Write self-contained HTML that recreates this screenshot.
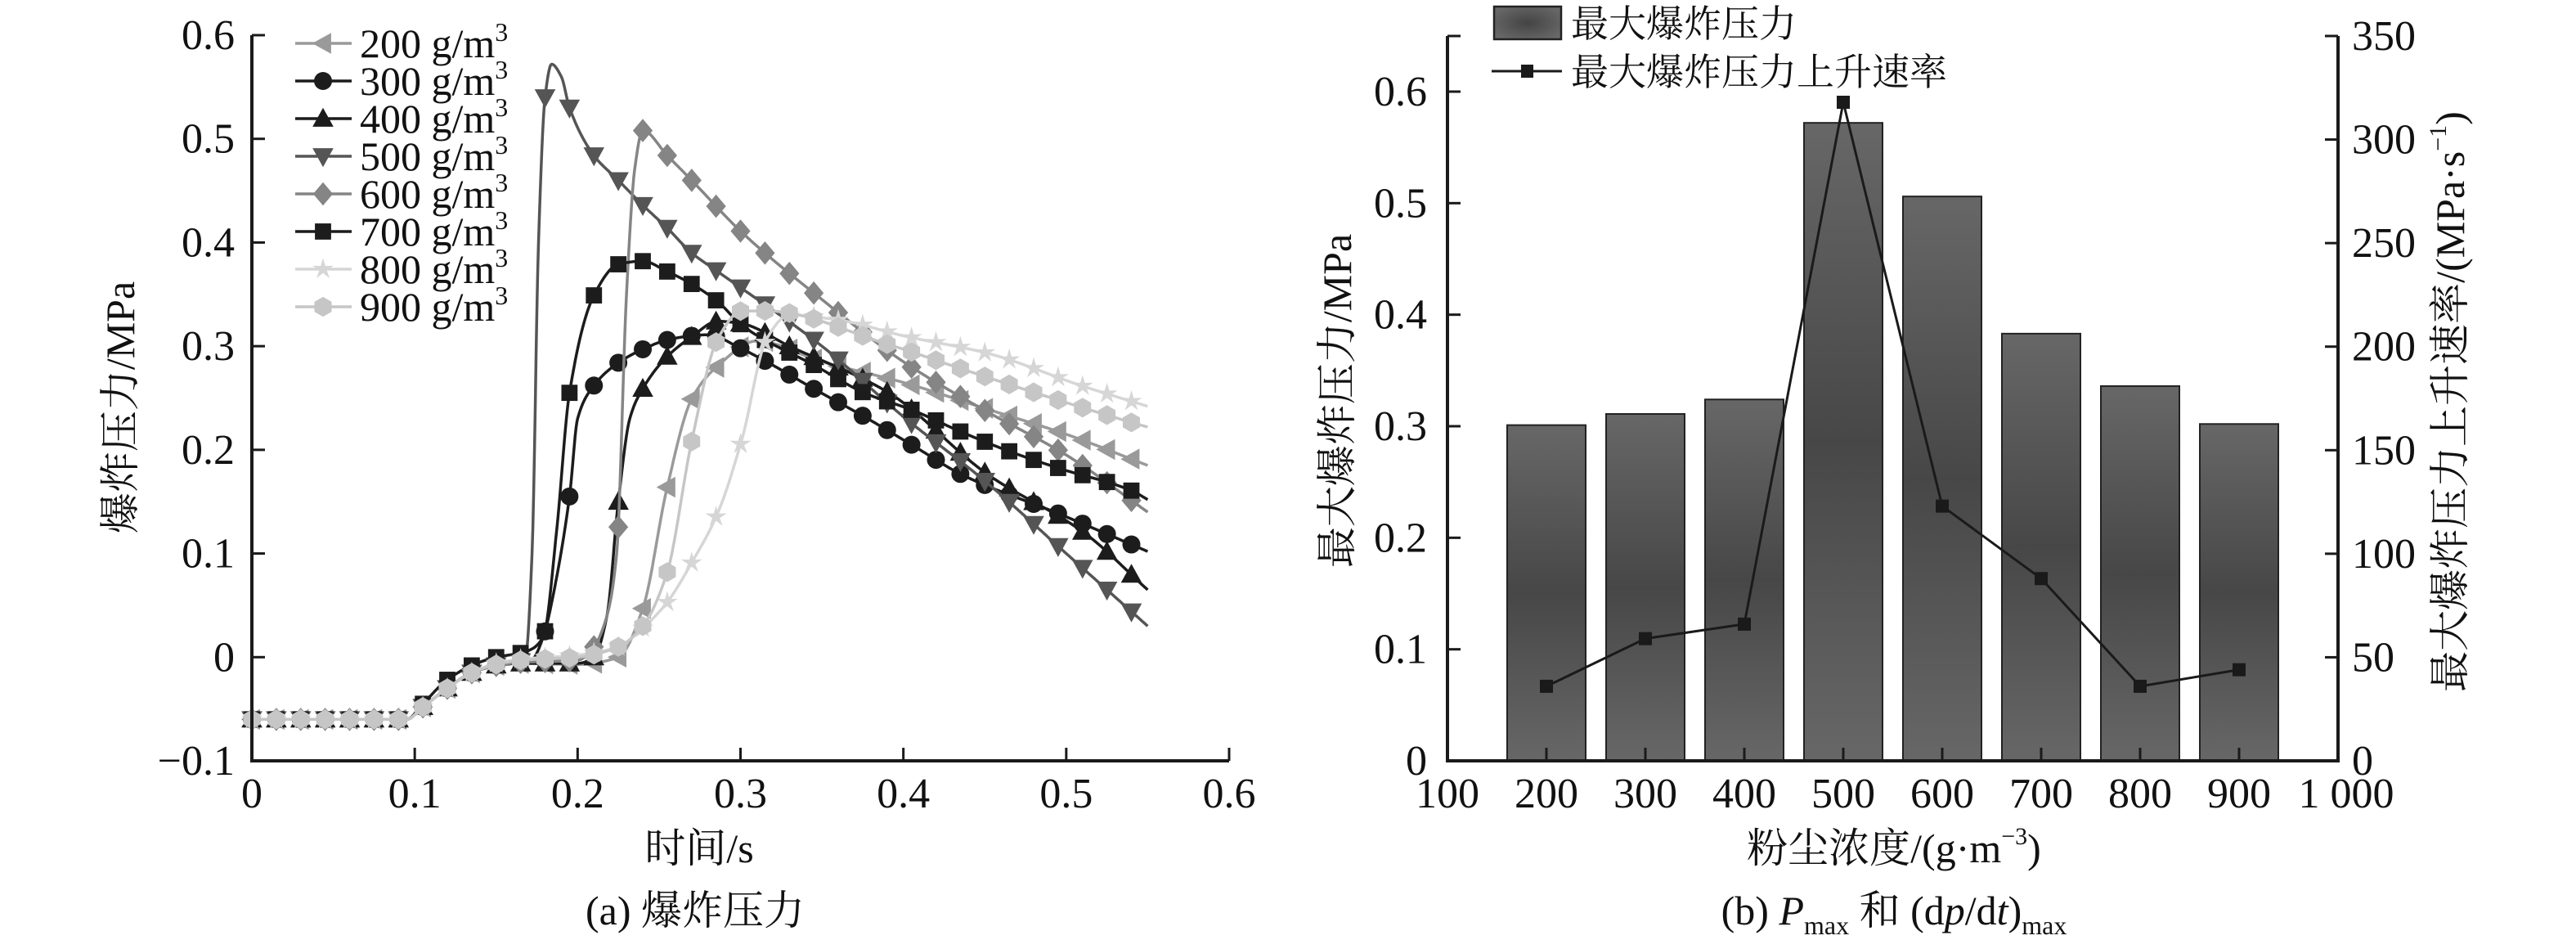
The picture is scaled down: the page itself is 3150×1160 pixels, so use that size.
<!DOCTYPE html>
<html><head><meta charset="utf-8">
<style>
html,body{margin:0;padding:0;background:#fff;}
svg{display:block;}
text{font-family:"Liberation Serif","Noto Serif CJK SC",serif;fill:#111;}
</style></head>
<body>
<svg id="fig" width="3150" height="1160" viewBox="0 0 3150 1160" xmlns="http://www.w3.org/2000/svg">
<defs>
<linearGradient id="barGrad" x1="0" y1="0" x2="0" y2="1">
<stop offset="0" stop-color="#676767"/><stop offset="0.5" stop-color="#474747"/><stop offset="1" stop-color="#676767"/>
</linearGradient>
<radialGradient id="legGrad" cx="0.5" cy="0.5" r="0.6">
<stop offset="0" stop-color="#444"/><stop offset="1" stop-color="#686868"/>
</radialGradient>
</defs>
<g id="chartA"></g>
<g id="chartB"></g>
</svg>
<script>
// ---------- Chart (a) data ----------
const xTicksA = [0, 0.1, 0.2, 0.3, 0.4, 0.5, 0.6];
const yTicksA = [-0.1, 0, 0.1, 0.2, 0.3, 0.4, 0.5, 0.6];
const seriesNames = ["200", "300", "400", "500", "600", "700", "800", "900"];
const p200 = [[0,-0.06],[0.095,-0.06],[0.105,-0.048],[0.12,-0.03],[0.135,-0.015],[0.15,-0.008],[0.165,-0.006],[0.2,-0.007],[0.225,0.0],[0.24,0.047],[0.255,0.164],[0.27,0.249],[0.286,0.281],[0.31,0.305],[0.35,0.285],[0.4,0.265],[0.45,0.24],[0.5,0.215],[0.55,0.185]];
const p300 = [[0,-0.06],[0.095,-0.06],[0.105,-0.048],[0.12,-0.03],[0.135,-0.015],[0.15,-0.008],[0.165,-0.004],[0.172,-0.002],[0.179,0.02],[0.185,0.06],[0.195,0.155],[0.2,0.23],[0.21,0.262],[0.225,0.284],[0.24,0.297],[0.255,0.306],[0.27,0.31],[0.28,0.311],[0.3,0.298],[0.316,0.285],[0.346,0.258],[0.376,0.232],[0.406,0.204],[0.436,0.176],[0.496,0.138],[0.55,0.102]];
const p400 = [[0,-0.06],[0.095,-0.06],[0.105,-0.048],[0.12,-0.03],[0.135,-0.015],[0.15,-0.008],[0.165,-0.006],[0.2,-0.006],[0.21,0.0],[0.218,0.04],[0.225,0.15],[0.232,0.23],[0.24,0.259],[0.255,0.29],[0.27,0.309],[0.286,0.324],[0.3,0.322],[0.33,0.3],[0.39,0.256],[0.452,0.176],[0.511,0.12],[0.55,0.065]];
const p500 = [[0,-0.06],[0.095,-0.06],[0.105,-0.048],[0.12,-0.03],[0.135,-0.015],[0.15,-0.008],[0.165,-0.004],[0.168,0.0],[0.172,0.1],[0.176,0.4],[0.18,0.54],[0.184,0.572],[0.19,0.56],[0.195,0.53],[0.21,0.484],[0.225,0.46],[0.24,0.436],[0.255,0.414],[0.27,0.39],[0.286,0.372],[0.35,0.3],[0.4,0.232],[0.45,0.17],[0.5,0.1],[0.55,0.03]];
const p600 = [[0,-0.06],[0.095,-0.06],[0.105,-0.048],[0.12,-0.03],[0.135,-0.015],[0.15,-0.008],[0.165,-0.005],[0.2,-0.003],[0.21,0.01],[0.218,0.04],[0.224,0.1],[0.23,0.35],[0.235,0.47],[0.24,0.508],[0.255,0.484],[0.27,0.46],[0.3,0.411],[0.35,0.345],[0.4,0.285],[0.45,0.238],[0.5,0.195],[0.55,0.14]];
const p700 = [[0,-0.06],[0.095,-0.06],[0.105,-0.045],[0.119,-0.023],[0.135,-0.008],[0.15,0.0],[0.165,0.004],[0.172,0.008],[0.179,0.02],[0.187,0.12],[0.195,0.255],[0.21,0.349],[0.225,0.379],[0.24,0.382],[0.255,0.372],[0.27,0.36],[0.286,0.343],[0.301,0.32],[0.346,0.281],[0.376,0.255],[0.406,0.238],[0.436,0.217],[0.466,0.198],[0.496,0.182],[0.541,0.16],[0.55,0.152]];
const p800 = [[0,-0.06],[0.095,-0.06],[0.105,-0.048],[0.12,-0.03],[0.135,-0.015],[0.15,-0.006],[0.165,-0.002],[0.2,0.002],[0.225,0.01],[0.24,0.028],[0.255,0.053],[0.27,0.091],[0.286,0.139],[0.301,0.211],[0.316,0.307],[0.33,0.33],[0.361,0.325],[0.4,0.31],[0.452,0.293],[0.511,0.261],[0.55,0.242]];
const p900 = [[0,-0.06],[0.095,-0.06],[0.105,-0.048],[0.12,-0.03],[0.135,-0.015],[0.15,-0.007],[0.165,-0.003],[0.2,0.0],[0.225,0.01],[0.24,0.03],[0.255,0.082],[0.27,0.208],[0.286,0.307],[0.301,0.334],[0.316,0.334],[0.39,0.302],[0.436,0.278],[0.481,0.255],[0.541,0.226],[0.55,0.222]];

// ---------- Chart (b) data ----------
const concentrations = [200, 300, 400, 500, 600, 700, 800, 900];
const maxPressure = [0.301, 0.311, 0.324, 0.572, 0.506, 0.383, 0.336, 0.302];
const maxRate = [36, 59, 66, 318, 123, 88, 36, 44];
const xTicksB = [100, 200, 300, 400, 500, 600, 700, 800, 900, 1000];
const xTickLabelsB = ["100","200","300","400","500","600","700","800","900","1 000"];
const yTicksBL = [0, 0.1, 0.2, 0.3, 0.4, 0.5, 0.6];
const yTicksBR = [0, 50, 100, 150, 200, 250, 300, 350];

const NS = "http://www.w3.org/2000/svg";
function mk(tag, attrs, parent, txt){
  const e = document.createElementNS(NS, tag);
  for (const k in attrs) e.setAttribute(k, attrs[k]);
  if (txt !== undefined) e.textContent = txt;
  parent.appendChild(e);
  return e;
}

// monotone cubic interpolation (Fritsch-Carlson)
function monotone(pts){
  const n = pts.length, xs = pts.map(p=>p[0]), ys = pts.map(p=>p[1]);
  const d = [], m = new Array(n);
  for (let i=0;i<n-1;i++) d.push((ys[i+1]-ys[i])/(xs[i+1]-xs[i]));
  m[0]=d[0]; m[n-1]=d[n-2];
  for (let i=1;i<n-1;i++){
    if (d[i-1]*d[i] <= 0) m[i]=0;
    else { const w1=2*(xs[i+1]-xs[i])+(xs[i]-xs[i-1]), w2=(xs[i+1]-xs[i])+2*(xs[i]-xs[i-1]);
      m[i]=(w1+w2)/(w1/d[i-1]+w2/d[i]); }
  }
  return function(x){
    let i=0; while (i<n-2 && x>xs[i+1]) i++;
    const h=xs[i+1]-xs[i], t=(x-xs[i])/h;
    const h00=2*t*t*t-3*t*t+1, h10=t*t*t-2*t*t+t, h01=-2*t*t*t+3*t*t, h11=t*t*t-t*t;
    return h00*ys[i]+h10*h*m[i]+h01*ys[i+1]+h11*h*m[i+1];
  };
}

function marker(g, shape, cx, cy, s, fill){
  let e;
  if (shape==="circle") e = mk("circle",{cx:cx,cy:cy,r:s*0.5,fill:fill},g);
  else if (shape==="square") e = mk("rect",{x:cx-s*0.45,y:cy-s*0.45,width:s*0.9,height:s*0.9,fill:fill},g);
  else {
    let p;
    if (shape==="tri-up") p=[[0,-0.6],[0.58,0.45],[-0.58,0.45]];
    else if (shape==="tri-down") p=[[0,0.6],[0.58,-0.45],[-0.58,-0.45]];
    else if (shape==="tri-left") p=[[-0.6,0],[0.45,-0.58],[0.45,0.58]];
    else if (shape==="diamond") p=[[0,-0.65],[0.55,0],[0,0.65],[-0.55,0]];
    else if (shape==="star") { p=[]; for(let k=0;k<10;k++){const a=-Math.PI/2+k*Math.PI/5, r=k%2?0.22:0.62; p.push([r*Math.cos(a),r*Math.sin(a)]);} }
    else if (shape==="hex") { p=[]; for(let k=0;k<6;k++){const a=Math.PI/6+k*Math.PI/3; p.push([0.55*Math.cos(a),0.55*Math.sin(a)]);} }
    e = mk("polygon",{points:p.map(q=>(cx+q[0]*s).toFixed(1)+","+(cy+q[1]*s).toFixed(1)).join(" "),fill:fill},g);
  }
  return e;
}

// ================= Chart A =================
(function(){
  const g = document.getElementById("chartA");
  const X0=308, X1=1503, Y0=930, Y1=43;
  const sx = v => X0 + (v-0)/(0.6-0)*(X1-X0);
  const sy = v => Y0 - (v-(-0.1))/(0.6-(-0.1))*(Y0-Y1);
  const series = [p200,p300,p400,p500,p600,p700,p800,p900];
  const colors = ["#9a9a9a","#1c1c1c","#1c1c1c","#555555","#858585","#1c1c1c","#d6d6d6","#c6c6c6"];
  const shapes = ["tri-left","circle","tri-up","tri-down","diamond","square","star","hex"];
  const offs = [0.0,0.0,0.0,0.0,0.0,0.0,0.0,0.0];

  series.forEach((pts,si)=>{
    const sg = mk("g",{},g);
    
    
    const f = monotone(pts);
    const t0 = pts[0][0], t1 = pts[pts.length-1][0];
    let d="";
    for (let t=t0;t<=t1+1e-9;t+=0.0005){ d += (d?"L":"M")+sx(t).toFixed(1)+","+sy(f(t)).toFixed(1); }
    const ln = mk("path",{d:d,fill:"none",stroke:colors[si],"stroke-width":3.5},sg);
    
    
    for (let t=offs[si]; t<=0.545; t+=0.015){
      const mm = marker(sg, shapes[si], sx(t), sy(f(t)), 22, colors[si]);
      
      
    }
  });

  // axes
  const ax = mk("path",{d:`M${X0},${Y1}V${Y0}H${X1}`,fill:"none",stroke:"#1a1a1a","stroke-width":4},g);
   
  yTicksA.forEach(v=>{
    mk("line",{x1:X0,x2:X0+16,y1:sy(v),y2:sy(v),stroke:"#1a1a1a","stroke-width":3},g);
    const t = mk("text",{x:287,y:sy(v)+17,"font-size":52,"text-anchor":"end"},g,(v<0?"\u22120.1":String(v)));
     
  });
  xTicksA.forEach(v=>{
    mk("line",{x1:sx(v),x2:sx(v),y1:Y0,y2:Y0-16,stroke:"#1a1a1a","stroke-width":3},g);
    const t = mk("text",{x:sx(v),y:987,"font-size":52,"text-anchor":"middle"},g,String(v));
     
  });
  const xt = mk("text",{x:855,y:1054,"font-size":50,"text-anchor":"middle"},g,"时间/s");
   
  const yt = mk("text",{x:0,y:0,"font-size":50,"text-anchor":"middle",transform:"translate(164,498) rotate(-90)"},g,"爆炸压力/MPa");
   
  const cap = mk("text",{x:850,y:1130,"font-size":50,"text-anchor":"middle"},g,"(a) 爆炸压力");
   

  // legend
  const lg = mk("g",{},g);
   
  seriesNames.forEach((nm,i)=>{
    const y = 53 + i*46;
    const eg = mk("g",{},lg);
     
    mk("line",{x1:361,x2:430,y1:y,y2:y,stroke:colors[i],"stroke-width":3.5},eg);
    marker(eg, shapes[i], 395, y, 22, colors[i]);
    const t = mk("text",{x:440,y:y+17,"font-size":50},eg,nm+" g/m");
    mk("tspan",{"font-size":32,dy:-20},t,"3");
  });
})();

// ================= Chart B =================
(function(){
  const g = document.getElementById("chartB");
  const X0=1770, X1=2859, Y0=930, YT=44;
  const sx = v => X0 + (v-100)/(1000-100)*(X1-X0);
  const yTop06 = 112;
  const syL = v => Y0 - v/0.6*(Y0-yTop06);
  const syR = v => Y0 - v/350*(Y0-YT);
  const bw = 96;

  concentrations.forEach((c,i)=>{
    const r = mk("rect",{x:sx(c)-bw/2,y:syL(maxPressure[i]),width:bw,height:Y0-syL(maxPressure[i]),fill:"url(#barGrad)",stroke:"#222","stroke-width":2},g);
     
  });
  let d="";
  concentrations.forEach((c,i)=>{ d += (i?"L":"M")+sx(c).toFixed(1)+","+syR(maxRate[i]).toFixed(1); });
  const ln = mk("path",{d:d,fill:"none",stroke:"#1a1a1a","stroke-width":3},g);
   
  concentrations.forEach((c,i)=>{
    const m = mk("rect",{x:sx(c)-8,y:syR(maxRate[i])-8,width:16,height:16,fill:"#1a1a1a"},g);
     
  });

  const ax = mk("path",{d:`M${X0},${YT}V${Y0}H${X1}V${YT}`,fill:"none",stroke:"#1a1a1a","stroke-width":4},g);
   
  mk("line",{x1:X0,x2:X0+16,y1:YT,y2:YT,stroke:"#1a1a1a","stroke-width":3},g);
  yTicksBL.forEach(v=>{
    mk("line",{x1:X0,x2:X0+16,y1:syL(v),y2:syL(v),stroke:"#1a1a1a","stroke-width":3},g);
    const t = mk("text",{x:1745,y:syL(v)+17,"font-size":52,"text-anchor":"end"},g,String(v));
     
  });
  yTicksBR.forEach(v=>{
    mk("line",{x1:X1,x2:X1-16,y1:syR(v),y2:syR(v),stroke:"#1a1a1a","stroke-width":3},g);
    const t = mk("text",{x:2876,y:syR(v)+17,"font-size":52,"text-anchor":"start"},g,String(v));
     
  });
  xTicksB.forEach((v,i)=>{
    mk("line",{x1:sx(v),x2:sx(v),y1:Y0,y2:Y0-16,stroke:"#1a1a1a","stroke-width":3},g);
    const t = mk("text",{x:sx(v)+(i===xTicksB.length-1?10:0),y:987,"font-size":52,"text-anchor":"middle"},g,xTickLabelsB[i]);
     
  });
  const xt = mk("text",{x:2316,y:1054,"font-size":50,"text-anchor":"middle"},g,"粉尘浓度/(g·m");
  mk("tspan",{"font-size":30,dy:-22},xt,"\u22123");
  mk("tspan",{dy:22},xt,")");
   
  const yl = mk("text",{x:0,y:0,"font-size":50,"text-anchor":"middle",transform:"translate(1652,490) rotate(-90)"},g,"最大爆炸压力/MPa");
   
  const yr = mk("text",{x:0,y:0,"font-size":50,"text-anchor":"middle",transform:"translate(3013,491) rotate(-90)"},g,"最大爆炸压力上升速率/(MPa·s");
  mk("tspan",{"font-size":30,dy:-22},yr,"\u22121");
  mk("tspan",{dy:22},yr,")");
   
  const cap = mk("text",{x:2316,y:1130,"font-size":50,"text-anchor":"middle"},g,"(b) ");
  mk("tspan",{"font-style":"italic"},cap,"P");
  mk("tspan",{"font-size":32,dy:12},cap,"max");
  mk("tspan",{dy:-12},cap," 和 (d");
  mk("tspan",{"font-style":"italic"},cap,"p");
  mk("tspan",{},cap,"/d");
  mk("tspan",{"font-style":"italic"},cap,"t");
  mk("tspan",{},cap,")");
  mk("tspan",{"font-size":32,dy:12},cap,"max");
   

  const lg = mk("g",{},g);
   
  const e1 = mk("g",{},lg);
   
  mk("rect",{x:1827,y:8,width:82,height:40,fill:"url(#legGrad)",stroke:"#222","stroke-width":2.5},e1);
  mk("text",{x:1921,y:45,"font-size":46},e1,"最大爆炸压力");
  const e2 = mk("g",{},lg);
   
  mk("line",{x1:1824,x2:1910,y1:87,y2:87,stroke:"#1a1a1a","stroke-width":3},e2);
  mk("rect",{x:1860,y:79,width:15,height:16,fill:"#1a1a1a"},e2);
  mk("text",{x:1921,y:104,"font-size":46},e2,"最大爆炸压力上升速率");
})();
</script>
</body></html>
